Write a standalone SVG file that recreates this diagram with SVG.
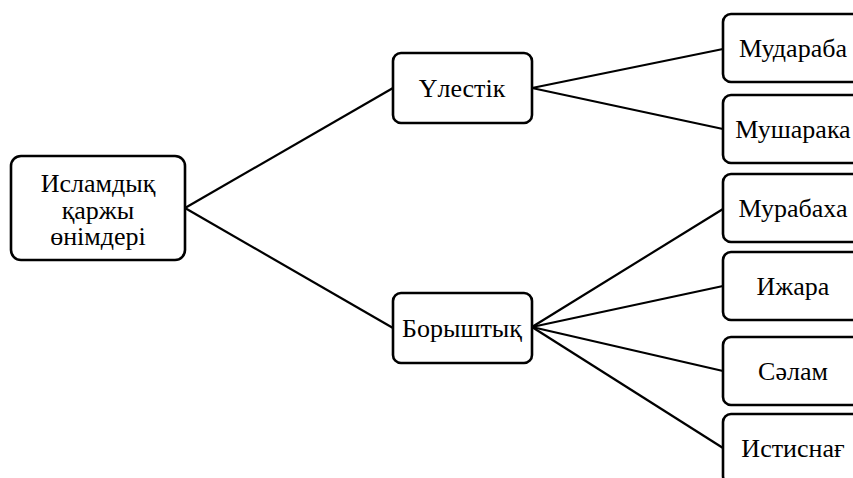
<svg xmlns="http://www.w3.org/2000/svg" width="853" height="478" viewBox="0 0 853 478">
<style>
.box{fill:#fff;stroke:#000;stroke-width:2.6}
.t{font-family:"Liberation Serif","Times New Roman","DejaVu Serif",serif;font-size:26px;fill:#000;text-anchor:middle}
.c line{stroke:#000;stroke-width:2.2}
</style>
<rect width="853" height="478" fill="#fff"/>
<g class="c" id="connectors">
<line x1="185" y1="208" x2="393" y2="88"/>
<line x1="185" y1="208" x2="393" y2="328"/>
<line x1="532" y1="88" x2="723" y2="49"/>
<line x1="532" y1="88" x2="723" y2="129"/>
<line x1="532" y1="327" x2="723" y2="209"/>
<line x1="532" y1="327" x2="723" y2="286"/>
<line x1="532" y1="327" x2="723" y2="371"/>
<line x1="532" y1="327" x2="723" y2="448"/>
</g>
<g id="root">
<rect class="box" x="11" y="156" width="174" height="104" rx="10"/>
<text class="t" x="98" y="192">Исламдық</text>
<text class="t" x="98" y="218.5">қаржы</text>
<text class="t" x="98" y="245">өнімдері</text>
</g>
<g id="ulestik">
<rect class="box" x="393" y="53" width="139" height="70" rx="8"/>
<text class="t" x="462" y="97">Үлестік</text>
</g>
<g id="boryshtyk">
<rect class="box" x="393" y="293" width="139" height="70" rx="8"/>
<text class="t" x="462" y="337">Борыштық</text>
</g>
<g id="mudaraba">
<rect class="box" x="723" y="14" width="145" height="68" rx="8"/>
<text class="t" x="793" y="57">Мудараба</text>
</g>
<g id="musharaka">
<rect class="box" x="723" y="95" width="145" height="68" rx="8"/>
<text class="t" x="793" y="137.5">Мушарака</text>
</g>
<g id="murabaha">
<rect class="box" x="723" y="174" width="145" height="68" rx="8"/>
<text class="t" x="793" y="216.5">Мурабаха</text>
</g>
<g id="ijara">
<rect class="box" x="723" y="252" width="145" height="68" rx="8"/>
<text class="t" x="793" y="294.5">Ижара</text>
</g>
<g id="salam">
<rect class="box" x="723" y="337" width="145" height="68" rx="8"/>
<text class="t" x="793" y="379.5">Сәлам</text>
</g>
<g id="istisna">
<rect class="box" x="723" y="414" width="145" height="70" rx="8"/>
<text class="t" x="793" y="457">Истиснағ</text>
</g>
</svg>
